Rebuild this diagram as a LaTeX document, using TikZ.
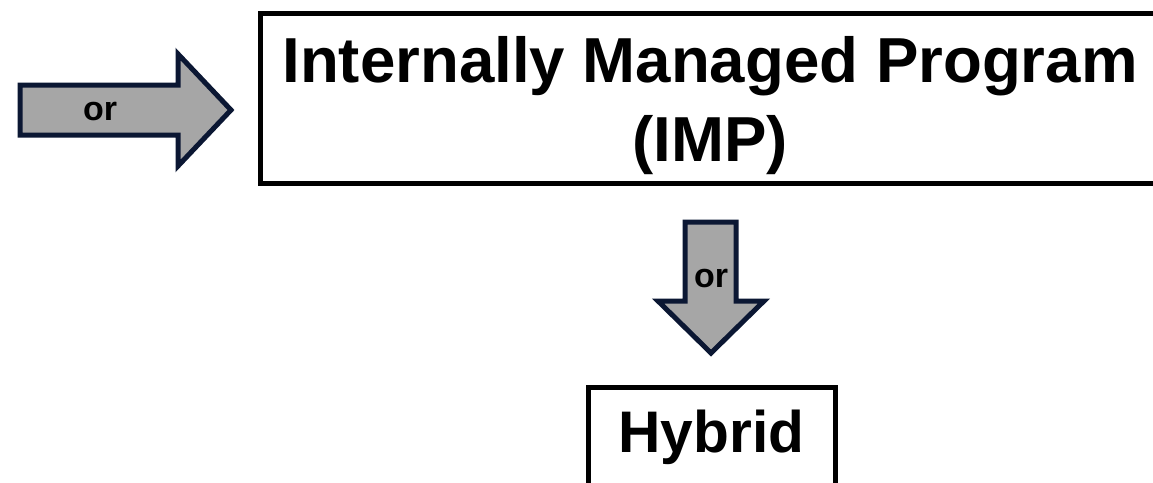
\documentclass[tikz,border=0pt]{standalone}
\usepackage{fontspec}
\setmainfont{Liberation Sans}
\usetikzlibrary{positioning}
\definecolor{arrowfill}{HTML}{A6A6A6}
\definecolor{arrowline}{HTML}{0B1733}
\tikzset{
  plan/.style={draw=black, line width=3.75pt, fill=white, inner sep=0pt, font=\bfseries},
  blockarrow/.style={draw=arrowline, line width=3.75pt, fill=arrowfill, line join=miter},
  orlabel/.style={font=\fontsize{25.5}{30}\selectfont\bfseries, inner sep=0pt}
}
\begin{document}
\begin{tikzpicture}[x=0.75pt, y=-0.75pt]
	%% the page is 1153 by 482 units, the boxes run off its edges
	\useasboundingbox (0,0) rectangle (1153,482);
	\clip (0,0) rectangle (1153,482);
	\fill[white] (0,0) rectangle (1153,482);
	%% the two boxes
	\node[plan, minimum width=675pt, minimum height=127.5pt] (imp) at (710,98) {};
	\node[align=center, inner sep=0pt, font=\fontsize{47.7}{59.25}\selectfont\bfseries]
	      (imptext) at ([yshift=-6pt]imp.center) {Internally Managed Program\\(IMP)};
	\node[plan, minimum width=185.25pt, minimum height=75pt,
	      font=\fontsize{44}{52}\selectfont\bfseries] (hybrid) at (711.5,437) {Hybrid};
	%% block arrows
	\draw[blockarrow] (20,85) -- (178,85) -- (178,54) -- (231,110) -- (178,166) -- (178,135) -- (20,135) -- cycle;
	\node[orlabel] (orleft) at (100,112) {or};
	\draw[blockarrow] (685,222) -- (736,222) -- (736,301) -- (764,301) -- (711,353) -- (658,301) -- (685,301) -- cycle;
	\node[orlabel] (ordown) at (711,279) {or};
\end{tikzpicture}
\end{document}
